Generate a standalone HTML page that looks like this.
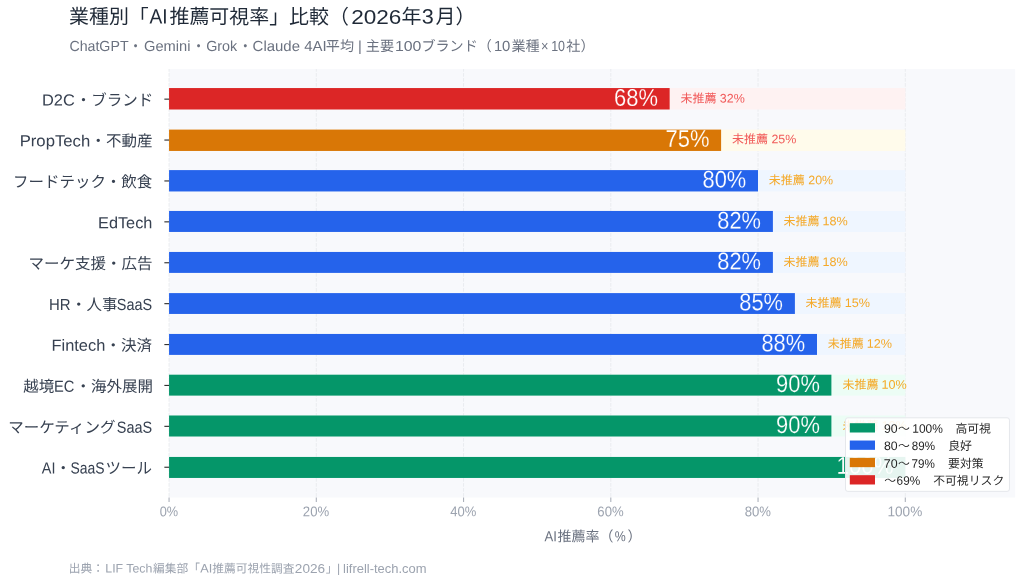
<!DOCTYPE html>
<html lang="ja"><head><meta charset="utf-8"><title>業種別「AI推薦可視率」比較</title>
<style>html,body{margin:0;padding:0;background:#fff}body{width:1024px;height:583px;overflow:hidden}svg{display:block}text{font-family:"Liberation Sans","Noto Sans CJK JP",sans-serif;white-space:pre}</style></head><body>
<svg width="1024" height="583" viewBox="0 0 1024 583">
<rect width="1024" height="583" fill="#fff"/>
<rect x="169.06" y="69.06" width="846.09" height="428.44" fill="#f8f9fc"/>
<line x1="169.06" y1="69.06" x2="169.06" y2="497.5" stroke="#e6e8ec" stroke-width="0.85" stroke-dasharray="3.6 1.4" stroke-dashoffset="1"/>
<line x1="316.31" y1="69.06" x2="316.31" y2="497.5" stroke="#e6e8ec" stroke-width="0.85" stroke-dasharray="3.6 1.4" stroke-dashoffset="1"/>
<line x1="463.56" y1="69.06" x2="463.56" y2="497.5" stroke="#e6e8ec" stroke-width="0.85" stroke-dasharray="3.6 1.4" stroke-dashoffset="1"/>
<line x1="610.8" y1="69.06" x2="610.8" y2="497.5" stroke="#e6e8ec" stroke-width="0.85" stroke-dasharray="3.6 1.4" stroke-dashoffset="1"/>
<line x1="758.05" y1="69.06" x2="758.05" y2="497.5" stroke="#e6e8ec" stroke-width="0.85" stroke-dasharray="3.6 1.4" stroke-dashoffset="1"/>
<line x1="905.3" y1="69.06" x2="905.3" y2="497.5" stroke="#e6e8ec" stroke-width="0.85" stroke-dasharray="3.6 1.4" stroke-dashoffset="1"/>
<rect x="169.06" y="88.05" width="736.34" height="21.45" fill="#fef2f2"/>
<rect x="169.06" y="88.05" width="500.59" height="21.45" fill="#dc2626"/>
<line x1="164.36" y1="99.15" x2="169.06" y2="99.15" stroke="#333" stroke-width="1.15"/>
<rect x="169.06" y="129.6" width="736.34" height="21.35" fill="#fffbeb"/>
<rect x="169.06" y="129.6" width="552.04" height="21.35" fill="#d97706"/>
<line x1="164.36" y1="140.05" x2="169.06" y2="140.05" stroke="#333" stroke-width="1.15"/>
<rect x="169.06" y="170.1" width="736.34" height="21.35" fill="#eff6ff"/>
<rect x="169.06" y="170.1" width="588.94" height="21.35" fill="#2563eb"/>
<line x1="164.36" y1="180.95" x2="169.06" y2="180.95" stroke="#333" stroke-width="1.15"/>
<rect x="169.06" y="210.95" width="736.34" height="21" fill="#eff6ff"/>
<rect x="169.06" y="210.95" width="603.84" height="21" fill="#2563eb"/>
<line x1="164.36" y1="221.85" x2="169.06" y2="221.85" stroke="#333" stroke-width="1.15"/>
<rect x="169.06" y="251.95" width="736.34" height="20.95" fill="#eff6ff"/>
<rect x="169.06" y="251.95" width="603.84" height="20.95" fill="#2563eb"/>
<line x1="164.36" y1="262.75" x2="169.06" y2="262.75" stroke="#333" stroke-width="1.15"/>
<rect x="169.06" y="293.1" width="736.34" height="20.85" fill="#eff6ff"/>
<rect x="169.06" y="293.1" width="625.84" height="20.85" fill="#2563eb"/>
<line x1="164.36" y1="303.65" x2="169.06" y2="303.65" stroke="#333" stroke-width="1.15"/>
<rect x="169.06" y="333.95" width="736.34" height="20.95" fill="#eff6ff"/>
<rect x="169.06" y="333.95" width="647.94" height="20.95" fill="#2563eb"/>
<line x1="164.36" y1="344.55" x2="169.06" y2="344.55" stroke="#333" stroke-width="1.15"/>
<rect x="169.06" y="374.7" width="736.34" height="20.9" fill="#ecfdf5"/>
<rect x="169.06" y="374.7" width="662.34" height="20.9" fill="#059669"/>
<line x1="164.36" y1="385.45" x2="169.06" y2="385.45" stroke="#333" stroke-width="1.15"/>
<rect x="169.06" y="415.5" width="736.34" height="21" fill="#ecfdf5"/>
<rect x="169.06" y="415.5" width="662.34" height="21" fill="#059669"/>
<line x1="164.36" y1="426.35" x2="169.06" y2="426.35" stroke="#333" stroke-width="1.15"/>
<rect x="169.06" y="456.95" width="736.34" height="21" fill="#ecfdf5"/>
<rect x="169.06" y="456.95" width="736.34" height="21" fill="#059669"/>
<line x1="164.36" y1="467.25" x2="169.06" y2="467.25" stroke="#333" stroke-width="1.15"/>
<line x1="169.06" y1="497.5" x2="169.06" y2="501.9" stroke="#adb2bc" stroke-width="1.1"/>
<line x1="316.31" y1="497.5" x2="316.31" y2="501.9" stroke="#adb2bc" stroke-width="1.1"/>
<line x1="463.56" y1="497.5" x2="463.56" y2="501.9" stroke="#adb2bc" stroke-width="1.1"/>
<line x1="610.8" y1="497.5" x2="610.8" y2="501.9" stroke="#adb2bc" stroke-width="1.1"/>
<line x1="758.05" y1="497.5" x2="758.05" y2="501.9" stroke="#adb2bc" stroke-width="1.1"/>
<line x1="905.3" y1="497.5" x2="905.3" y2="501.9" stroke="#adb2bc" stroke-width="1.1"/>
<g fill="#1f2937"><text transform="matrix(1 0.0005 0 1 69 23.6)" font-size="19.94">業種別「</text><text transform="matrix(0.9251 0.0005 0 1 149.57 23.6)" font-size="20.74">AI</text><text transform="matrix(1 0.0005 0 1 169.46 23.6)" font-size="19.94">推薦可視率」比較（</text><text transform="matrix(1.0892 0.0005 0 1 351.17 23.6)" font-size="20.74">2026</text><text transform="matrix(1 0.0005 0 1 401.6 23.6)" font-size="19.94">年</text><text transform="matrix(1.0440 0.0005 0 1 421.7 23.6)" font-size="20.74">3</text><text transform="matrix(1 0.0005 0 1 435.5 23.6)" font-size="19.94">月）</text></g>
<g fill="#6b7280"><text transform="matrix(0.9686 0.0005 0 1 69.4 50.9)" font-size="14.66">ChatGPT</text><text transform="matrix(1 0.0005 0 1 128.55 50.9)" font-size="14.1">・</text><text transform="matrix(1.0025 0.0005 0 1 144.04 50.9)" font-size="14.66">Gemini</text><text transform="matrix(1 0.0005 0 1 191.55 50.9)" font-size="14.1">・</text><text transform="matrix(0.9781 0.0005 0 1 206.16 50.9)" font-size="14.66">Grok</text><text transform="matrix(1 0.0005 0 1 238.2 50.9)" font-size="14.1">・</text><text transform="matrix(1.0211 0.0005 0 1 252.61 50.9)" font-size="14.66">Claude 4AI</text><text transform="matrix(1 0.0005 0 1 325.87 50.9)" font-size="14.1">平均 </text><text transform="matrix(1.0000 0.0005 0 1 357.88 50.9)" font-size="14.66">| </text><text transform="matrix(1 0.0005 0 1 365.81 50.9)" font-size="14.1">主要</text><text transform="matrix(1.0825 0.0005 0 1 394.95 50.9)" font-size="14.66">100</text><text transform="matrix(1 0.0005 0 1 421.4 50.9)" font-size="14.1">ブランド（</text><text transform="matrix(1.0114 0.0005 0 1 493.88 50.9)" font-size="14.66">10</text><text transform="matrix(1 0.0005 0 1 511.48 50.9)" font-size="14.1">業種</text><text transform="matrix(0.8749 0.0005 0 1 540.99 50.9)" font-size="14.66">×</text><text transform="matrix(0.8509 0.0005 0 1 551.16 50.9)" font-size="14.66">10</text><text transform="matrix(1 0.0005 0 1 566.3 50.9)" font-size="14.1">社）</text></g>
<g fill="#9ca3af"><text transform="matrix(1 0.0005 0 1 68.7 572.6)" font-size="11.75">出典：</text><text transform="matrix(1.0099 0.0005 0 1 105.31 572.6)" font-size="12.22">LIF Tech</text><text transform="matrix(1 0.0005 0 1 153.05 572.6)" font-size="11.75">編集部「</text><text transform="matrix(1.0417 0.0005 0 1 200.3 572.6)" font-size="12.22">AI</text><text transform="matrix(1 0.0005 0 1 212.3 572.6)" font-size="11.75">推薦可視性調査</text><text transform="matrix(1.1134 0.0005 0 1 294.82 572.6)" font-size="12.22">2026</text><text transform="matrix(1 0.0005 0 1 325.85 572.6)" font-size="11.75">」</text><text transform="matrix(1.0000 0.0005 0 1 337 572.6)" font-size="12.22">| </text><text transform="matrix(1.0610 0.0005 0 1 343.07 572.6)" font-size="12.22">lifrell-tech.com</text></g>
<g fill="#6b7280"><text transform="matrix(0.8991 0.0005 0 1 544.44 541.3)" font-size="14.56">AI</text><text transform="matrix(1 0.0005 0 1 557.6 541.3)" font-size="14">推薦率（</text><text transform="matrix(0.8486 0.0005 0 1 614.73 541.3)" font-size="14.56">%</text><text transform="matrix(1 0.0005 0 1 627.4 541.3)" font-size="14">）</text></g>
<g fill="#374151"><text transform="matrix(1.0180 0.0005 0 1 42.02 105.45)" font-size="16.12">D2C</text><text transform="matrix(1 0.0005 0 1 75.75 105.45)" font-size="15.5">・ブランド</text></g>
<g fill="#374151"><text transform="matrix(1.0361 0.0005 0 1 19.66 146.35)" font-size="16.12">PropTech</text><text transform="matrix(1 0.0005 0 1 90.39 146.35)" font-size="15.5">・不動産</text></g>
<g fill="#374151"><text transform="matrix(1 0.0005 0 1 13.1 187.25)" font-size="15.5">フードテック・飲食</text></g>
<g fill="#374151"><text transform="matrix(1.0110 0.0005 0 1 98.06 228.15)" font-size="16.12">EdTech</text></g>
<g fill="#374151"><text transform="matrix(1 0.0005 0 1 28.5 269.05)" font-size="15.5">マーケ支援・広告</text></g>
<g fill="#374151"><text transform="matrix(0.9274 0.0005 0 1 49.01 309.95)" font-size="16.12">HR</text><text transform="matrix(1 0.0005 0 1 71.1 309.95)" font-size="15.5">・人事</text><text transform="matrix(0.8970 0.0005 0 1 116.8 309.95)" font-size="16.12">SaaS</text></g>
<g fill="#374151"><text transform="matrix(1.0192 0.0005 0 1 51.45 350.85)" font-size="16.12">Fintech</text><text transform="matrix(1 0.0005 0 1 105.56 350.85)" font-size="15.5">・決済</text></g>
<g fill="#374151"><text transform="matrix(1 0.0005 0 1 23.37 391.75)" font-size="15.5">越境</text><text transform="matrix(0.9098 0.0005 0 1 53.9 391.75)" font-size="16.12">EC</text><text transform="matrix(1 0.0005 0 1 75.4 391.75)" font-size="15.5">・海外展開</text></g>
<g fill="#374151"><text transform="matrix(1 0.0005 0 1 8.15 432.65)" font-size="15.5">マーケティング</text><text transform="matrix(0.8970 0.0005 0 1 116.8 432.65)" font-size="16.12">SaaS</text></g>
<g fill="#374151"><text transform="matrix(0.8946 0.0005 0 1 41.79 473.55)" font-size="16.12">AI</text><text transform="matrix(1 0.0005 0 1 55.4 473.55)" font-size="15.5">・</text><text transform="matrix(0.8650 0.0005 0 1 70.44 473.55)" font-size="16.12">SaaS</text><text transform="matrix(1 0.0005 0 1 105.49 473.55)" font-size="15.5">ツール</text></g>
<g fill="#fff" stroke="#dc2626" stroke-width="0.2"><text transform="matrix(0.9144 0.0005 0 1 614.01 105.75)" font-size="24">68%</text></g>
<g fill="#fff" stroke="#d97706" stroke-width="0.2"><text transform="matrix(0.9140 0.0005 0 1 665.56 146.65)" font-size="24">75%</text></g>
<g fill="#fff" stroke="#2563eb" stroke-width="0.2"><text transform="matrix(0.9112 0.0005 0 1 702.51 187.55)" font-size="24">80%</text></g>
<g fill="#fff" stroke="#2563eb" stroke-width="0.2"><text transform="matrix(0.9112 0.0005 0 1 717.23 228.45)" font-size="24">82%</text></g>
<g fill="#fff" stroke="#2563eb" stroke-width="0.2"><text transform="matrix(0.9112 0.0005 0 1 717.23 269.35)" font-size="24">82%</text></g>
<g fill="#fff" stroke="#2563eb" stroke-width="0.2"><text transform="matrix(0.9112 0.0005 0 1 739.32 310.25)" font-size="24">85%</text></g>
<g fill="#fff" stroke="#2563eb" stroke-width="0.2"><text transform="matrix(0.9112 0.0005 0 1 761.41 351.15)" font-size="24">88%</text></g>
<g fill="#fff" stroke="#059669" stroke-width="0.2"><text transform="matrix(0.9130 0.0005 0 1 776.05 392.05)" font-size="24">90%</text></g>
<g fill="#fff" stroke="#059669" stroke-width="0.2"><text transform="matrix(0.9130 0.0005 0 1 776.05 432.95)" font-size="24">90%</text></g>
<g fill="#fff" stroke="#059669" stroke-width="0.2"><text transform="matrix(0.9297 0.0005 0 1 836.57 473.85)" font-size="24">100%</text></g>
<g fill="#ef4444" fill-opacity="0.88"><text transform="matrix(1 0.0005 0 1 680.45 102.45)" font-size="12">未推薦 </text><text transform="matrix(1.0047 0.0005 0 1 719.83 102.45)" font-size="12.4">32%</text></g>
<g fill="#ef4444" fill-opacity="0.88"><text transform="matrix(1 0.0005 0 1 731.99 143.35)" font-size="12">未推薦 </text><text transform="matrix(1.0029 0.0005 0 1 771.41 143.35)" font-size="12.4">25%</text></g>
<g fill="#f59e0b" fill-opacity="0.88"><text transform="matrix(1 0.0005 0 1 768.8 184.25)" font-size="12">未推薦 </text><text transform="matrix(1.0029 0.0005 0 1 808.23 184.25)" font-size="12.4">20%</text></g>
<g fill="#f59e0b" fill-opacity="0.88"><text transform="matrix(1 0.0005 0 1 783.53 225.15)" font-size="12">未推薦 </text><text transform="matrix(1.0182 0.0005 0 1 822.58 225.15)" font-size="12.4">18%</text></g>
<g fill="#f59e0b" fill-opacity="0.88"><text transform="matrix(1 0.0005 0 1 783.53 266.05)" font-size="12">未推薦 </text><text transform="matrix(1.0182 0.0005 0 1 822.58 266.05)" font-size="12.4">18%</text></g>
<g fill="#f59e0b" fill-opacity="0.88"><text transform="matrix(1 0.0005 0 1 805.61 306.95)" font-size="12">未推薦 </text><text transform="matrix(1.0182 0.0005 0 1 844.67 306.95)" font-size="12.4">15%</text></g>
<g fill="#f59e0b" fill-opacity="0.88"><text transform="matrix(1 0.0005 0 1 827.7 347.85)" font-size="12">未推薦 </text><text transform="matrix(1.0182 0.0005 0 1 866.75 347.85)" font-size="12.4">12%</text></g>
<g fill="#f59e0b" fill-opacity="0.88"><text transform="matrix(1 0.0005 0 1 842.43 388.75)" font-size="12">未推薦 </text><text transform="matrix(1.0182 0.0005 0 1 881.48 388.75)" font-size="12.4">10%</text></g>
<g fill="#f59e0b" fill-opacity="0.88"><text transform="matrix(1 0.0005 0 1 842.43 429.65)" font-size="12">未推薦 </text><text transform="matrix(1.0182 0.0005 0 1 881.48 429.65)" font-size="12.4">10%</text></g>
<g fill="#9ca3af"><text transform="matrix(0.9040 0.0005 0 1 159.7 516.3)" font-size="14.1">0%</text></g>
<g fill="#9ca3af"><text transform="matrix(0.9332 0.0005 0 1 302.85 516.3)" font-size="14.1">20%</text></g>
<g fill="#9ca3af"><text transform="matrix(0.9246 0.0005 0 1 450.34 516.3)" font-size="14.1">40%</text></g>
<g fill="#9ca3af"><text transform="matrix(0.9340 0.0005 0 1 597.32 516.3)" font-size="14.1">60%</text></g>
<g fill="#9ca3af"><text transform="matrix(0.9315 0.0005 0 1 744.64 516.3)" font-size="14.1">80%</text></g>
<g fill="#9ca3af"><text transform="matrix(0.9641 0.0005 0 1 887.52 516.3)" font-size="14.1">100%</text></g>
<rect x="845.5" y="417.8" width="163.95" height="73.55" rx="2.3" fill="#fff" fill-opacity="0.9" stroke="#e5e7eb" stroke-width="1"/>
<rect x="849.8" y="423.2" width="25.2" height="9.3" fill="#059669"/>
<rect x="849.8" y="440.53" width="25.2" height="9.3" fill="#2563eb"/>
<rect x="849.8" y="457.86" width="25.2" height="9.3" fill="#d97706"/>
<rect x="849.8" y="475.19" width="25.2" height="9.3" fill="#dc2626"/>
<g fill="#262626"><text transform="matrix(0.9973 0.0005 0 1 884.01 432.7)" font-size="12.32">90</text><text transform="matrix(1 0.0005 0 1 898 432.7)" font-size="11.85">～</text><text transform="matrix(0.9720 0.0005 0 1 912.25 432.7)" font-size="12.32">100%</text><text transform="matrix(1 0.0005 0 1 943.58 432.7)" font-size="11.85">　高可視</text></g>
<g fill="#262626"><text transform="matrix(0.9955 0.0005 0 1 884.04 450)" font-size="12.32">80</text><text transform="matrix(1 0.0005 0 1 898 450)" font-size="11.85">～</text><text transform="matrix(0.9416 0.0005 0 1 911.77 450)" font-size="12.32">89%</text><text transform="matrix(1 0.0005 0 1 936.36 450)" font-size="11.85">　良好</text></g>
<g fill="#262626"><text transform="matrix(1.0087 0.0005 0 1 883.87 467.8)" font-size="12.32">70</text><text transform="matrix(1 0.0005 0 1 898 467.8)" font-size="11.85">～</text><text transform="matrix(0.9480 0.0005 0 1 911.61 467.8)" font-size="12.32">79%</text><text transform="matrix(1 0.0005 0 1 936.2 467.8)" font-size="11.85">　要対策</text></g>
<g fill="#262626"><text transform="matrix(1 0.0005 0 1 884.2 484.7)" font-size="11.85">～</text><text transform="matrix(0.9571 0.0005 0 1 896.59 484.7)" font-size="12.32">69%</text><text transform="matrix(1 0.0005 0 1 921.33 484.7)" font-size="11.85">　不可視リスク</text></g>
</svg></body></html>
